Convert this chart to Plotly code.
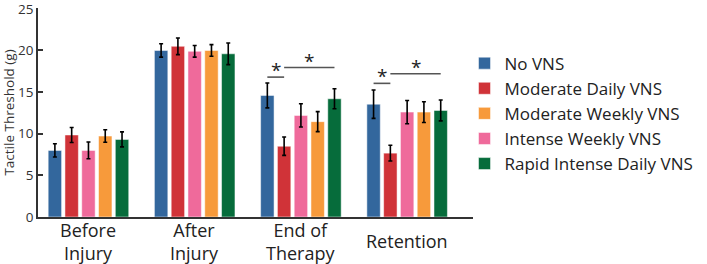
import plotly.graph_objects as go

categories = ["Before<br>Injury", "After<br>Injury", "End of<br>Therapy", "Retention"]
series_names = ["No VNS", "Moderate Daily VNS", "Intense Weekly VNS", "Moderate Weekly VNS", "Rapid Intense Daily VNS"]
legend_rank = [1, 2, 4, 3, 5]
colors = ["#33679d", "#d03338", "#ef6a9b", "#f79a3b", "#066c3b"]

no_vns = [8.0, 20.0, 14.6, 13.55]
moderate_daily = [9.85, 20.5, 8.5, 7.67]
intense_weekly = [8.0, 19.9, 12.2, 12.6]
moderate_weekly = [9.72, 20.0, 11.45, 12.6]
rapid_intense = [9.32, 19.6, 14.2, 12.8]

no_vns_err = [0.8, 0.8, 1.5, 1.7]
moderate_daily_err = [0.9, 1.0, 1.1, 0.95]
intense_weekly_err = [1.0, 0.7, 1.4, 1.4]
moderate_weekly_err = [0.75, 0.7, 1.2, 1.25]
rapid_intense_err = [0.9, 1.3, 1.2, 1.25]

y_ticks = [0, 5, 10, 15, 20, 25]

values = [no_vns, moderate_daily, intense_weekly, moderate_weekly, rapid_intense]
errors = [no_vns_err, moderate_daily_err, intense_weekly_err, moderate_weekly_err, rapid_intense_err]

# significance brackets: (group index, from series, to series, height)
sig_groups = [2, 2, 3, 3]
sig_from = [0, 1, 0, 1]
sig_to = [1, 4, 1, 4]
sig_height = [16.8, 17.95, 16.05, 17.2]

BARGAP = 0.21
BARGROUPGAP = 0.2
FONT = "Open Sans"

fig = go.Figure()
for name, vals, errs, col, rk in zip(series_names, values, errors, colors, legend_rank):
    fig.add_trace(go.Bar(
        x=categories, y=vals, name=name, legendrank=rk,
        marker=dict(color=col, line=dict(color="rgba(255,255,255,0.5)", width=1)),
        error_y=dict(type="data", array=errs, color="black", thickness=1.6, width=2),
    ))

n = len(series_names)
pitch = (1 - BARGAP) / n


def bar_center(g, s):
    return g - (1 - BARGAP) / 2 + pitch * (s + 0.5)


for g, a, b, h in zip(sig_groups, sig_from, sig_to, sig_height):
    x0 = bar_center(g, a)
    x1 = bar_center(g, b)
    fig.add_shape(type="line", xref="x", yref="y", x0=x0, x1=x1, y0=h, y1=h,
                  line=dict(color="#555555", width=1.6))
    fig.add_annotation(x=(x0 + x1) / 2, y=h, xref="x", yref="y", text="*",
                       showarrow=False, yanchor="bottom", yshift=-8,
                       font=dict(family=FONT, size=19, color="#222222"))

for i, c in enumerate(categories):
    fig.add_annotation(x=i, y=0, xref="x", yref="paper", text=c, showarrow=False,
                       yanchor="middle", yshift=-24,
                       font=dict(family=FONT, size=18, color="#222222"))

fig.update_layout(
    width=707, height=264,
    margin=dict(l=38, r=217, t=8, b=47),
    plot_bgcolor="white", paper_bgcolor="white",
    barmode="group", bargap=BARGAP, bargroupgap=BARGROUPGAP,
    font=dict(family=FONT, color="#333333"),
    showlegend=True,
    legend=dict(x=0.9805, xanchor="left", y=0.82, yanchor="top",
                font=dict(family=FONT, size=17, color="#222222"),
                itemwidth=30, bgcolor="rgba(0,0,0,0)"),
    xaxis=dict(range=[-0.475, 3.62], showticklabels=False, showline=True,
               linecolor="#333333", linewidth=1.5, ticks="", automargin=False),
    yaxis=dict(range=[0, 25.1], tickvals=y_ticks, showgrid=False,
               zeroline=False, showline=True, linecolor="#333333", linewidth=1.5,
               ticks="inside", ticklen=5, tickwidth=1.5, tickcolor="#333333",
               automargin=False, ticklabeloverflow="allow",
               tickfont=dict(family=FONT, size=13.5, color="#333333"),
               title=dict(text="Tactile Threshold (g)", standoff=5,
                          font=dict(family=FONT, size=13.5, color="#333333"))),
)

fig.write_html("out.html", config={"displayModeBar": False},
               post_script="document.body.style.margin='0';")
